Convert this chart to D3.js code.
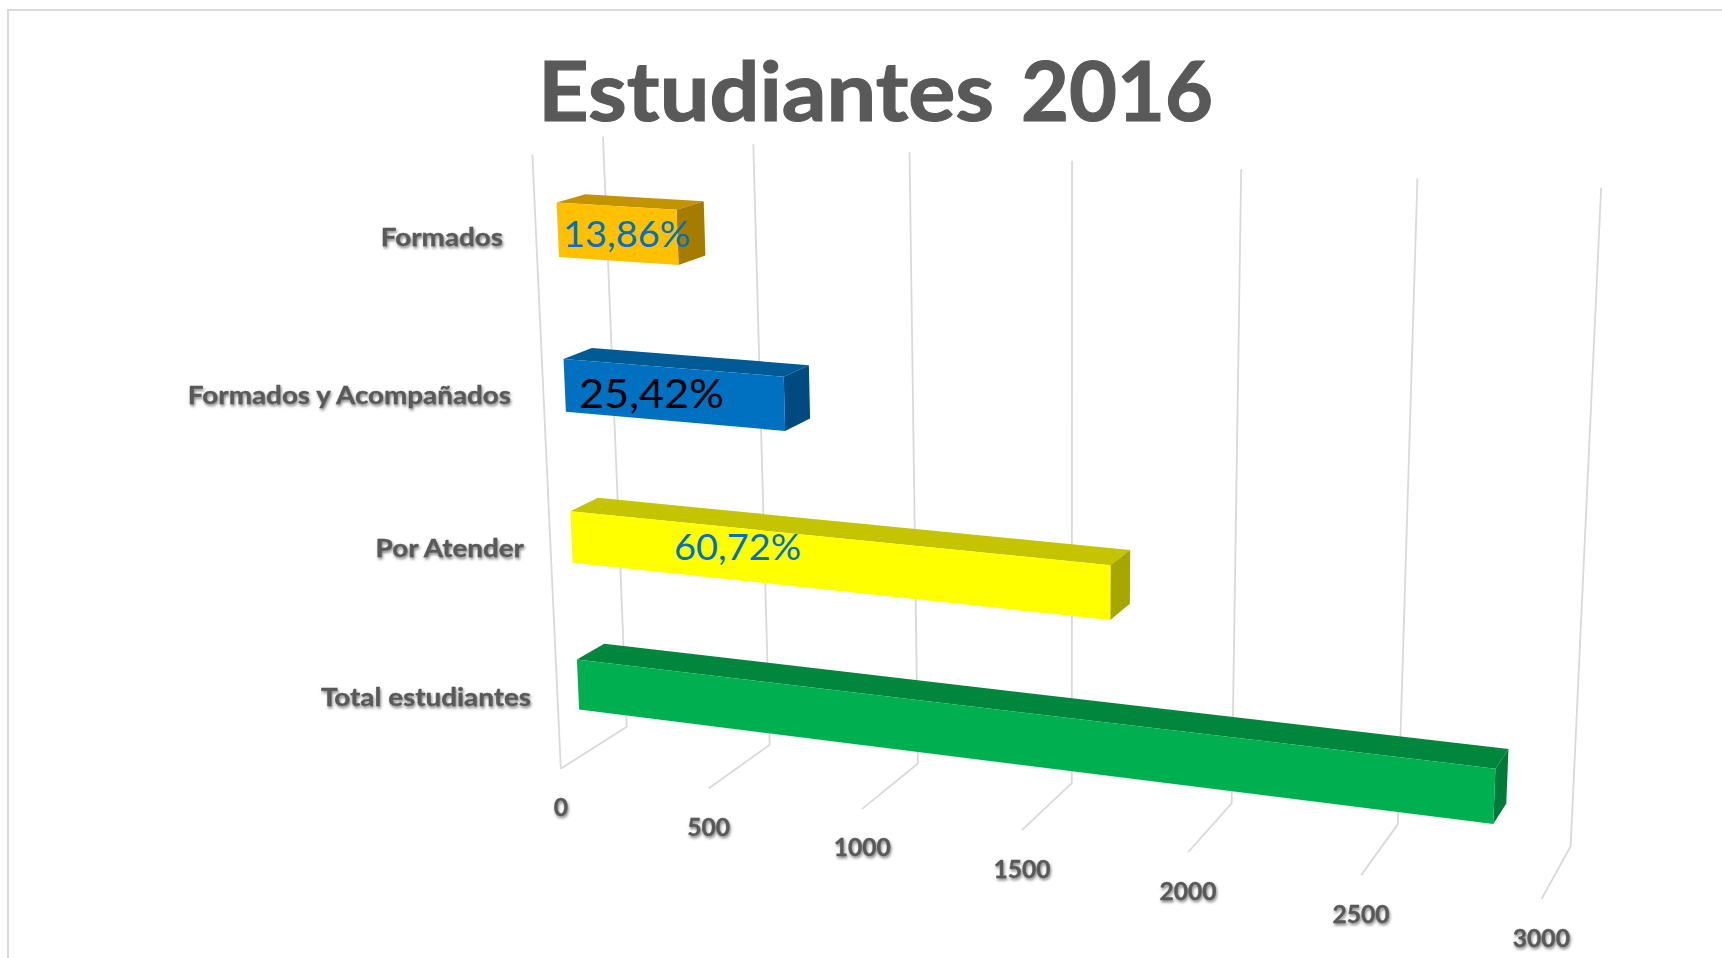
<!DOCTYPE html>
<html><head><meta charset="utf-8">
<script src="https://cdnjs.cloudflare.com/ajax/libs/d3/7.8.5/d3.min.js"></script>
<style>html,body{margin:0;background:#fff;overflow:hidden}svg{display:block}
text{font-family:Lato,sans-serif}</style></head><body><svg id="c" width="1722" height="958"></svg>
<script>
const categories=["Formados","Formados y Acompañados","Por Atender","Total estudiantes"];
const values=[393,721,1722,2836];
const percentLabels=["13,86%","25,42%","60,72%"];
const tickValues=[0,500,1000,1500,2000,2500,3000];
const titleWords=["Estudiantes","2016"];

const frontColors=["#FFC000","#0070C0","#FFFF00","#00B050"];
const topColors=["#C39300","#005A96","#C4C400","#00863D"];
const sideColors=["#A57C00","#004A80","#A6A600","#007A38"];
const labelColors=["#0070C0","#000000","#0070C0"];

// Perspective camera of the 3-D chart: (value 0..1, height 0..1, depth 0..1) -> screen
const camera=[
 [807.370505,-56.780124,92.420557,560.822346],
 [29.560534,-622.309820,-11.312672,768.709534],
 [-0.112359,-0.053189,0.042308,1]];
const project=(v,h,d)=>{const X=[v,h,d,1],w=d3.sum(camera[2],(c,i)=>c*X[i]);
 return [d3.sum(camera[0],(c,i)=>c*X[i])/w,d3.sum(camera[1],(c,i)=>c*X[i])/w];};

const x=d3.scaleLinear().domain([0,3000]).range([0,1]);
const band=d3.scaleBand().domain(categories.slice().reverse()).range([-.002,.998]).paddingInner(.656).paddingOuter(.328);
const D0=.30,D1=.71;
const svg=d3.select("#c");
const line=d3.line();
const poly=pts=>line(pts)+"Z";
const shadow="drop-shadow(1px 2px 1.5px rgba(0,0,0,.5))";
// stretch text horizontally to a target ratio of its natural width
const stretch=k=>function(){this.setAttribute("lengthAdjust","spacingAndGlyphs");this.setAttribute("textLength",this.getComputedTextLength()*k);};

svg.append("path").attr("d","M8,958V10H1722").attr("fill","none").attr("stroke","#d9d9d9").attr("stroke-width",2);
const titleText=svg.append("text").attr("y",121).attr("font-weight",700).attr("font-size",83)
 .attr("fill","#595959").attr("stroke","#595959").attr("stroke-width",1.2);
const titleX=[538,1021],titleW=[456,192];
titleText.selectAll("tspan").data(titleWords).join("tspan").attr("x",(d,i)=>titleX[i]).attr("textLength",(d,i)=>titleW[i]).attr("lengthAdjust","spacingAndGlyphs").text(d=>d);

const grid=svg.append("g").attr("fill","none").attr("stroke","#d9d9d9").attr("stroke-width",1.8);
tickValues.forEach(t=>{grid.append("path").attr("d",line([project(x(t),0,0),project(x(t),0,1),project(x(t),1,1)]));});
grid.append("path").attr("d",line([project(0,0,0),project(0,1,0)]));

svg.append("g").selectAll("text").data(tickValues).join("text").attr("text-anchor","middle").attr("font-weight",700).attr("font-size",24.6).attr("fill","#595959").attr("stroke","#595959").attr("stroke-width",.3).style("filter",shadow)
 .attr("x",t=>project(x(t),0,0)[0]).attr("y",t=>project(x(t),0,0)[1]+47.5).text(t=>t);

const rows=categories.map((c,i)=>({c,v:values[i],i})).reverse();
const bars=svg.append("g").selectAll("g").data(rows).join("g");
bars.append("path").attr("fill",r=>topColors[r.i]).attr("d",r=>{const a=band(r.c)+band.bandwidth(),e=x(r.v);return poly([project(0,a,D0),project(e,a,D0),project(e,a,D1),project(0,a,D1)]);});
bars.append("path").attr("fill",r=>sideColors[r.i]).attr("d",r=>{const a=band(r.c),b=a+band.bandwidth(),e=x(r.v);return poly([project(e,a,D0),project(e,b,D0),project(e,b,D1),project(e,a,D1)]);});
bars.append("path").attr("fill",r=>frontColors[r.i]).attr("d",r=>{const a=band(r.c),b=a+band.bandwidth(),e=x(r.v);return poly([project(0,a,D0),project(e,a,D0),project(e,b,D0),project(0,b,D0)]);});

const catRight=[503,511,524,531],catBase=[246,404,557,706];
svg.append("g").selectAll("text").data(categories).join("text").attr("text-anchor","end").attr("font-weight",700).attr("font-size",24.5).attr("fill","#595959").attr("stroke","#595959").attr("stroke-width",.3).style("filter",shadow)
 .attr("x",(c,i)=>catRight[i]).attr("y",(c,i)=>catBase[i]).text(c=>c).each(stretch(1.135));

const pX=[563,579,674],pY=[247,408,560],pS=[36,41,36];
svg.append("g").selectAll("text").data(percentLabels).join("text").attr("font-size",(d,i)=>pS[i]).attr("fill",(d,i)=>labelColors[i])
 .attr("x",(d,i)=>pX[i]).attr("y",(d,i)=>pY[i]).text(d=>d).each(stretch(1.055));
</script></body></html>
